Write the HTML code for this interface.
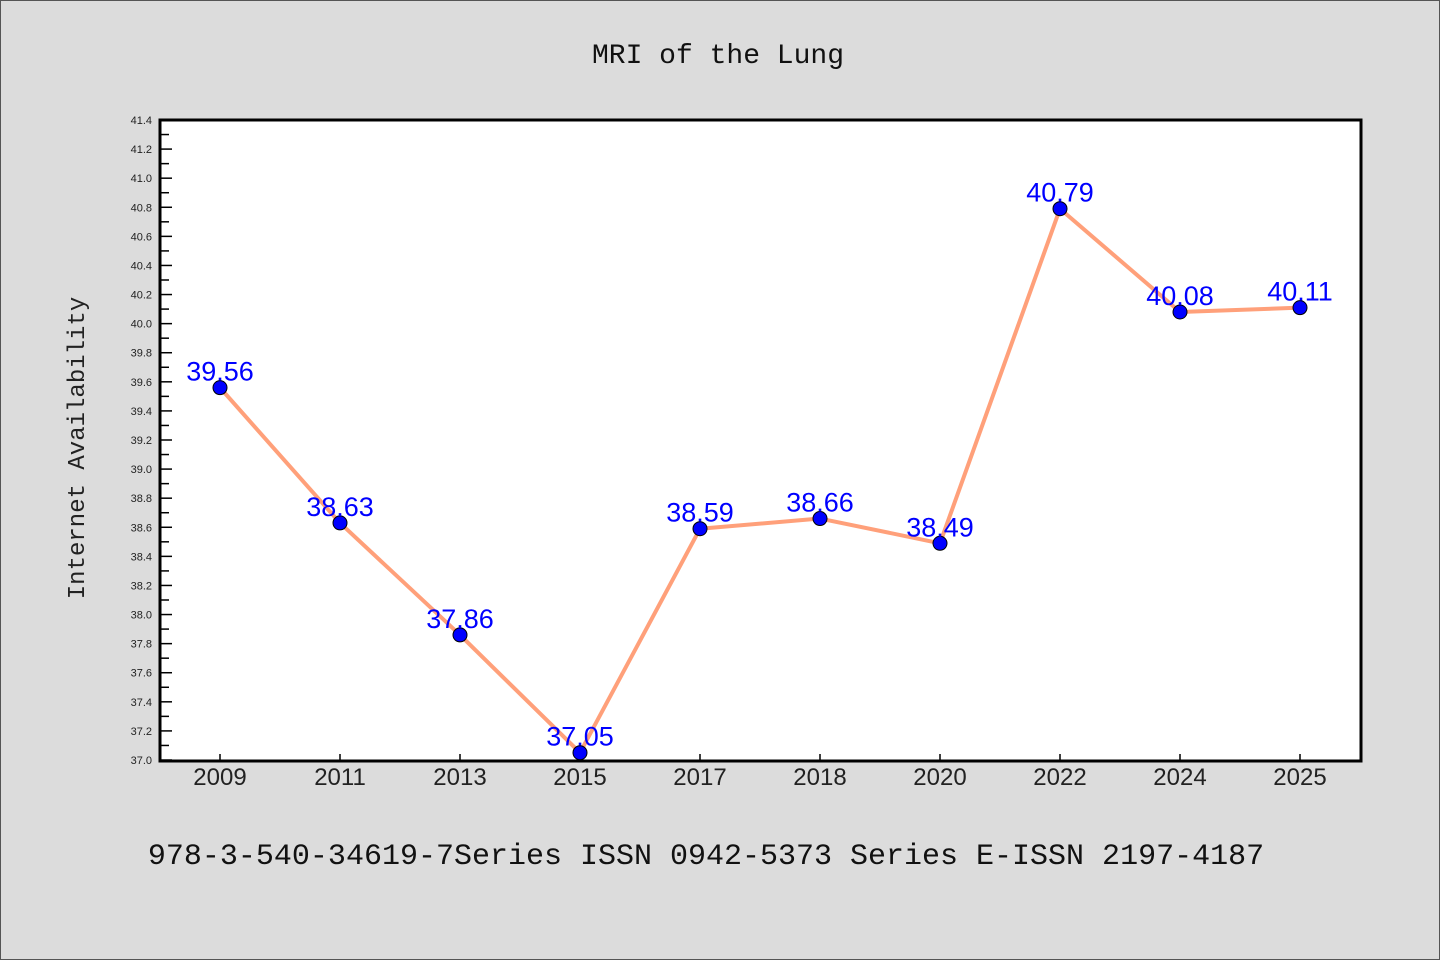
<!DOCTYPE html>
<html><head><meta charset="utf-8"><style>
body{margin:0;background:#dcdcdc}
svg{display:block}
</style></head><body>
<svg id="chart" width="1440" height="960" xmlns="http://www.w3.org/2000/svg">
<rect x="0.5" y="0.5" width="1439" height="959" fill="#dcdcdc" stroke="#555" stroke-width="1"/>
<text x="718" y="63" text-anchor="middle" font-family="'Liberation Mono','WenQuanYi Zen Hei',monospace" font-size="28" fill="#111">MRI of the Lung</text>
<rect x="160" y="120" width="1201" height="641" fill="#fff" stroke="#000" stroke-width="3"/>
<text transform="translate(84,448) rotate(-90)" text-anchor="middle" font-family="'Liberation Mono','WenQuanYi Zen Hei',monospace" font-size="24" fill="#222">Internet Availability</text>
<text x="706" y="864" text-anchor="middle" font-family="'Liberation Mono','WenQuanYi Zen Hei',monospace" font-size="30" fill="#111">978-3-540-34619-7Series ISSN 0942-5373 Series E-ISSN 2197-4187</text>
<g id="axes"></g>
<g id="series"></g>
</svg>
<script>
const categories=["2009","2011","2013","2015","2017","2018","2020","2022","2024","2025"];
const values=[39.56,38.63,37.86,37.05,38.59,38.66,38.49,40.79,40.08,40.11];
const valueLabels=["39.56","38.63","37.86","37.05","38.59","38.66","38.49","40.79","40.08","40.11"];
const yMin=37.0,yMax=41.4,yStep=0.2;
const NS="http://www.w3.org/2000/svg";
const L=160,R=1361,T=120,B=760;
function x(i){return 220+i*120;}
function y(v){return B-(v-yMin)/(yMax-yMin)*(B-T);}
function mk(t,a,p){const e=document.createElementNS(NS,t);for(const k in a)e.setAttribute(k,a[k]);p.appendChild(e);return e;}
const ax=document.getElementById('axes'),sr=document.getElementById('series');
const nT=Math.round((yMax-yMin)/yStep);
for(let k=0;k<=nT;k++){
 const v=yMin+k*yStep,yy=y(v);
 const t=mk('line',{x1:L,x2:L+12,y1:yy,y2:yy,stroke:'#000','stroke-width':1.5},ax);
 
 
 const lb=mk('text',{x:152,y:yy+4,'text-anchor':'end','font-family':'Liberation Sans, sans-serif','font-size':11,fill:'#222'},ax);
 
 
 lb.textContent=v.toFixed(1);
 if(k<nT){const m=mk('line',{x1:L,x2:L+9,y1:yy-(B-T)/nT/2,y2:yy-(B-T)/nT/2,stroke:'#000','stroke-width':1.5},ax);
 
 }
}
categories.forEach((c,i)=>{
 const t=mk('line',{x1:x(i),x2:x(i),y1:B,y2:B-6,stroke:'#000','stroke-width':1.5},ax);
 
 
 const lb=mk('text',{x:x(i),y:785,'text-anchor':'middle','font-family':'Liberation Sans, sans-serif','font-size':24,fill:'#222'},ax);
 
 
 lb.textContent=c;
});
const ln=mk('polyline',{points:values.map((v,i)=>x(i)+','+y(v)).join(' '),fill:'none',stroke:'#ffa07a','stroke-width':4,'stroke-linejoin':'round'},sr);


values.forEach((v,i)=>{
 const d=mk('circle',{cx:x(i),cy:y(v),r:7,fill:'#0000ff',stroke:'#000','stroke-width':1},sr);
 
 
 const t=mk('text',{x:x(i),y:y(v)-7,'text-anchor':'middle','font-family':'Liberation Sans, sans-serif','font-size':27,fill:'#0000ff'},sr);
 
 
 t.textContent=valueLabels[i];
});
</script>
</body></html>
